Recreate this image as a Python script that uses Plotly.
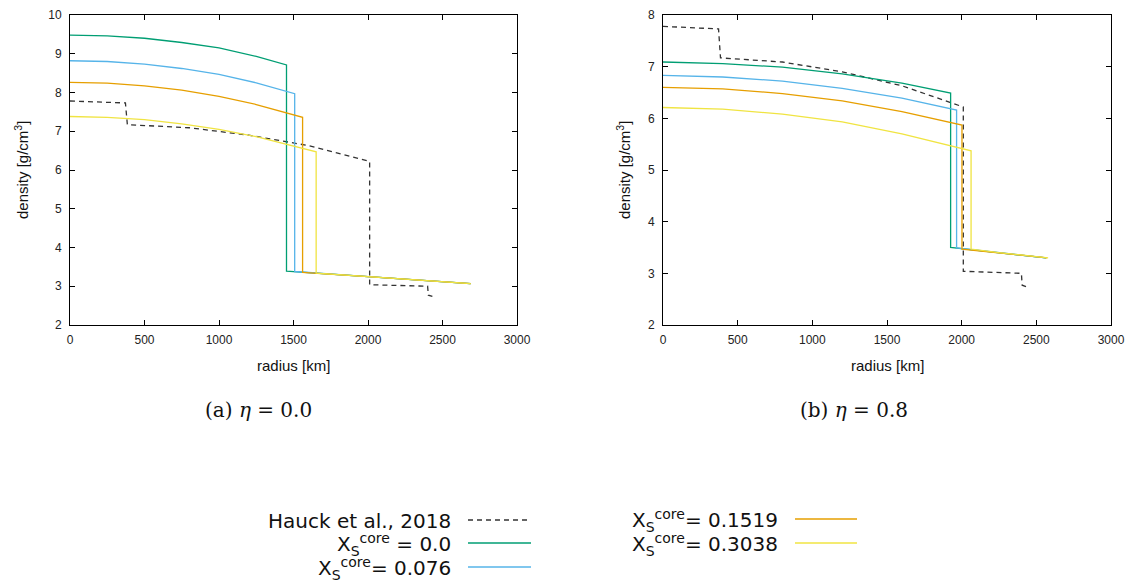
import plotly.graph_objects as go

W, H = 1134, 584

# ---------------- data ----------------
# Hauck et al., 2018 reference profile (same in both panels)
hauck_r = [0, 372, 385, 800, 1200, 1600, 2011, 2011, 2400, 2405, 2432]
hauck_rho = [7.78, 7.73, 7.17, 7.09, 6.90, 6.63, 6.22, 3.04, 3.00, 2.77, 2.74]

# panel (a) eta = 0.0
a_green_r = [0, 250, 500, 750, 1000, 1250, 1453, 1453, 2000, 2689]
a_green_rho = [9.48, 9.46, 9.40, 9.29, 9.15, 8.93, 8.71, 3.39, 3.25, 3.07]
a_blue_r = [0, 250, 500, 750, 1000, 1250, 1508, 1508, 2000, 2689]
a_blue_rho = [8.82, 8.80, 8.73, 8.62, 8.47, 8.25, 7.97, 3.38, 3.25, 3.07]
a_orange_r = [0, 250, 500, 750, 1000, 1250, 1561, 1561, 2000, 2689]
a_orange_rho = [8.26, 8.24, 8.17, 8.06, 7.90, 7.69, 7.36, 3.36, 3.25, 3.07]
a_yellow_r = [0, 250, 500, 750, 1000, 1250, 1652, 1652, 2000, 2689]
a_yellow_rho = [7.38, 7.36, 7.30, 7.19, 7.05, 6.86, 6.47, 3.34, 3.25, 3.07]

# panel (b) eta = 0.8
b_green_r = [0, 400, 800, 1200, 1600, 1926, 1926, 2250, 2565]
b_green_rho = [7.09, 7.06, 6.99, 6.86, 6.68, 6.49, 3.50, 3.40, 3.30]
b_blue_r = [0, 400, 800, 1200, 1600, 1966, 1966, 2250, 2565]
b_blue_rho = [6.83, 6.80, 6.72, 6.58, 6.39, 6.16, 3.49, 3.40, 3.30]
b_orange_r = [0, 400, 800, 1200, 1600, 2002, 2002, 2250, 2572]
b_orange_rho = [6.60, 6.57, 6.48, 6.34, 6.13, 5.87, 3.47, 3.39, 3.30]
b_yellow_r = [0, 400, 800, 1200, 1600, 2063, 2063, 2250, 2579]
b_yellow_rho = [6.21, 6.18, 6.08, 5.93, 5.70, 5.37, 3.47, 3.40, 3.30]

x_ticks = [0, 500, 1000, 1500, 2000, 2500, 3000]
a_y_ticks = [2, 3, 4, 5, 6, 7, 8, 9, 10]
b_y_ticks = [2, 3, 4, 5, 6, 7, 8]

labels = ["Hauck et al., 2018",
          "X<sub>S</sub><sup>core</sup> = 0.0",
          "X<sub>S</sub><sup>core</sup>= 0.076",
          "X<sub>S</sub><sup>core</sup>= 0.1519",
          "X<sub>S</sub><sup>core</sup>= 0.3038"]
captions = ["(a) <i>η</i> = 0.0", "(b) <i>η</i> = 0.8"]

# ---------------- styles ----------------
C_H = "#333333"
C_G = "#009e73"
C_B = "#56b4e9"
C_O = "#e69f00"
C_Y = "#f0e442"
LW = 1.3

def px(x):
    return x / W

def py(y):
    return 1 - y / H

fig = go.Figure()

panels = [
    ("x", "y", [(a_green_r, a_green_rho, C_G), (a_blue_r, a_blue_rho, C_B),
                (a_orange_r, a_orange_rho, C_O), (a_yellow_r, a_yellow_rho, C_Y)]),
    ("x2", "y2", [(b_green_r, b_green_rho, C_G), (b_blue_r, b_blue_rho, C_B),
                  (b_orange_r, b_orange_rho, C_O), (b_yellow_r, b_yellow_rho, C_Y)]),
]
for xa, ya, series in panels:
    fig.add_trace(go.Scatter(x=hauck_r, y=hauck_rho, mode="lines", xaxis=xa, yaxis=ya,
                             line=dict(color=C_H, width=LW, dash="5px,4px"),
                             showlegend=False, hoverinfo="skip"))
    for r, rho, c in series:
        fig.add_trace(go.Scatter(x=r, y=rho, mode="lines", xaxis=xa, yaxis=ya,
                                 line=dict(color=c, width=LW),
                                 showlegend=False, hoverinfo="skip"))

tickfont = dict(family="Liberation Sans, Arial, sans-serif", size=12, color="#222222")
axis_common = dict(showgrid=False, zeroline=False, showline=True, linecolor="black",
                   linewidth=1, mirror="ticks", ticks="inside", ticklen=5,
                   tickcolor="black", tickfont=tickfont, automargin=False)

fig.update_layout(
    width=W, height=H,
    margin=dict(l=0, r=0, t=0, b=0),
    paper_bgcolor="white", plot_bgcolor="white",
    showlegend=False,
    xaxis=dict(domain=[px(70), px(517)], range=[0, 3000], tickvals=x_ticks,
               anchor="y", ticklabelstandoff=4, **axis_common),
    yaxis=dict(domain=[py(325), py(15)], range=[2, 10], tickvals=a_y_ticks,
               anchor="x", ticklabelstandoff=5, **axis_common),
    xaxis2=dict(domain=[px(663), px(1111)], range=[0, 3000], tickvals=x_ticks,
                anchor="y2", ticklabelstandoff=4, **axis_common),
    yaxis2=dict(domain=[py(325), py(15)], range=[2, 8], tickvals=b_y_ticks,
                anchor="x2", ticklabelstandoff=5, **axis_common),
)

title_font = dict(family="Liberation Sans, Arial, sans-serif", size=15, color="#111111")
ann = []
# axis titles
for xc in [(70 + 517) / 2, (663 + 1111) / 2]:
    ann.append(dict(text="radius [km]", x=px(xc), y=py(365), xref="paper", yref="paper",
                    showarrow=False, xanchor="center", yanchor="middle", font=title_font))
for xc in [22, 624]:
    ann.append(dict(text="density [g/cm<sup>3</sup>]", x=px(xc), y=py(170), xref="paper",
                    yref="paper", showarrow=False, textangle=-90, xanchor="center",
                    yanchor="middle", font=title_font))
# captions
cap_font = dict(family="DejaVu Serif, Liberation Serif, serif", size=20, color="#111111")
for txt, xc in zip(captions, [258, 854]):
    ann.append(dict(text=txt, x=px(xc), y=py(410), xref="paper", yref="paper",
                    showarrow=False, xanchor="center", yanchor="middle", font=cap_font))

# legend (text right aligned, sample line on the right)
leg_font = dict(family="DejaVu Sans, sans-serif", size=20, color="#111111")
leg_rows = [
    (labels[0], 453, 468, 531, 520, C_H, "5px,4px"),
    (labels[1], 453, 468, 531, 543, C_G, "solid"),
    (labels[2], 453, 468, 531, 567, C_B, "solid"),
    (labels[3], 780, 795, 857, 519, C_O, "solid"),
    (labels[4], 780, 795, 857, 543, C_Y, "solid"),
]
shapes = []
for txt, xt, x0, x1, yr, c, d in leg_rows:
    ann.append(dict(text=txt, x=px(xt), y=py(yr + 1), xref="paper", yref="paper",
                    showarrow=False, xanchor="right", yanchor="middle", font=leg_font))
    shapes.append(dict(type="line", xref="paper", yref="paper", x0=px(x0), x1=px(x1),
                       y0=py(yr), y1=py(yr), line=dict(color=c, width=1.6, dash=d)))

fig.update_layout(annotations=ann, shapes=shapes)
fig.write_html("out.html", config={"displayModeBar": False},
               post_script="document.body.style.margin='0px';document.body.style.overflow='hidden';")
